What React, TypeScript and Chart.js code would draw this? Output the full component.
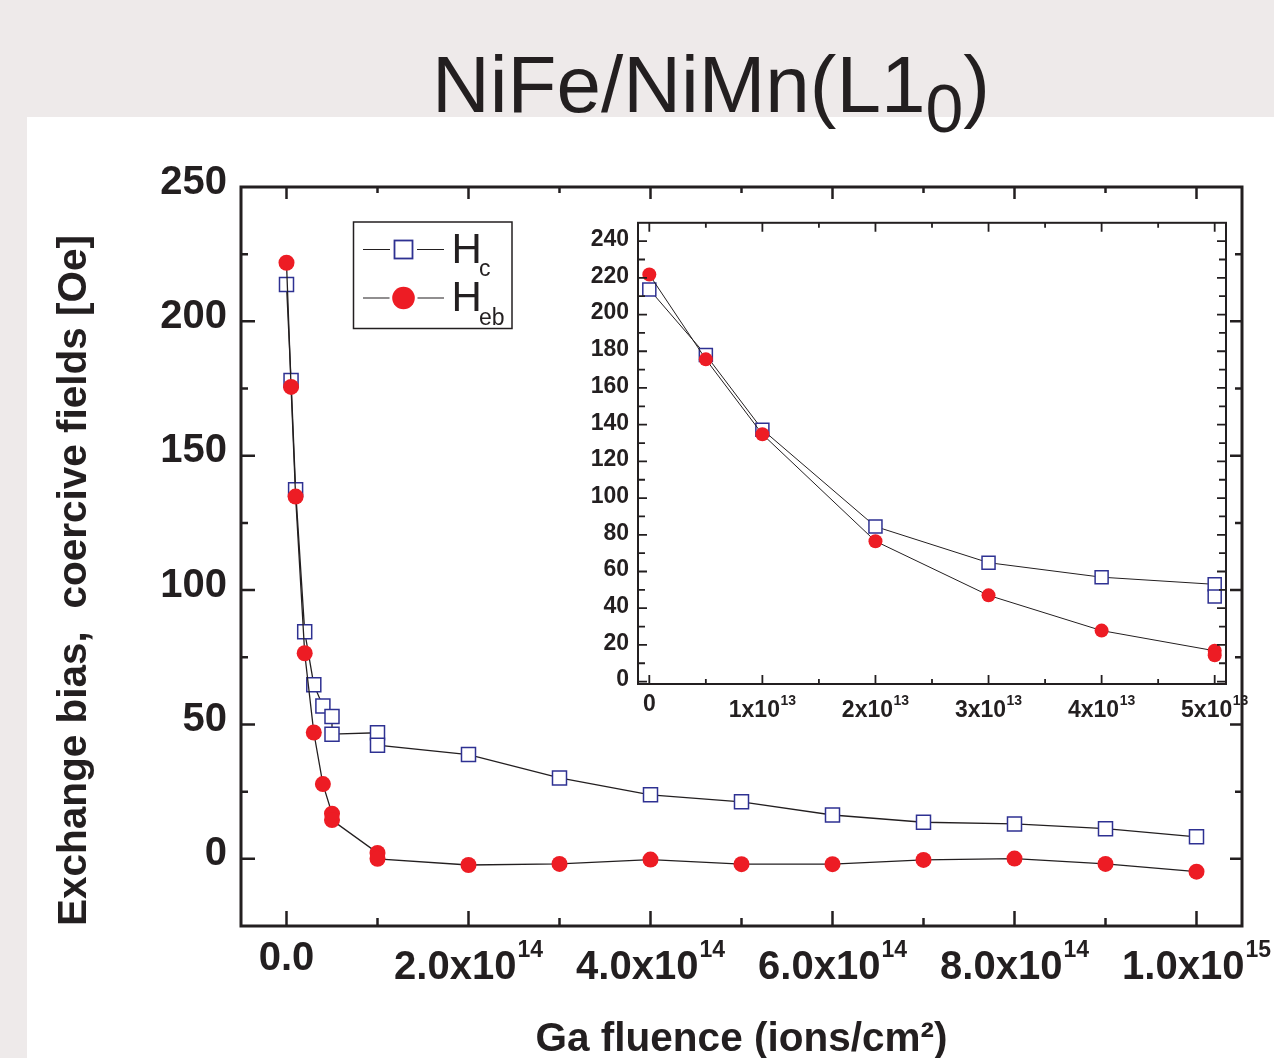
import React, { useEffect, useRef } from 'react';
import { Chart, registerables } from 'chart.js';

Chart.register(...registerables);

const INK = '#231f20';
const NAVY = '#2e3192';
const RED = '#ed1c24';
const FONT = '"Liberation Sans", Arial, Helvetica, sans-serif';

// ---------------- data ----------------
const fluence = [0, 5e12, 1e13, 2e13, 3e13, 4e13, 5e13, 5e13, 1e14, 1e14, 2e14, 3e14, 4e14, 5e14, 6e14, 7e14, 8e14, 9e14, 1e15];
const hc = [213.7, 178.0, 137.3, 84.5, 64.8, 56.9, 53.0, 46.4, 46.9, 42.3, 38.8, 30.1, 23.8, 21.2, 16.3, 13.6, 13.0, 11.2, 8.2];
const heb = [221.8, 175.6, 134.8, 76.5, 47.0, 27.8, 16.8, 14.4, 2.2, 0.0, -2.3, -1.9, -0.3, -2.0, -2.0, -0.4, 0.1, -1.9, -4.8];
const insetCount = 8; // inset shows the points up to 5x10^13

const legendMain = ['H', 'H'];
const legendSub = ['c', 'eb'];

const mainXTickValues = [0, 2e14, 4e14, 6e14, 8e14, 1e15];
const mainXTickBases = ['0.0', '2.0x10', '4.0x10', '6.0x10', '8.0x10', '1.0x10'];
const mainXTickExps = ['', '14', '14', '14', '14', '15'];
const mainYTickValues = [0, 50, 100, 150, 200, 250];

const insetXTickValues = [0, 1e13, 2e13, 3e13, 4e13, 5e13];
const insetXTickBases = ['0', '1x10', '2x10', '3x10', '4x10', '5x10'];
const insetXTickExps = ['', '13', '13', '13', '13', '13'];
const insetYTickValues = [0, 20, 40, 60, 80, 100, 120, 140, 160, 180, 200, 220, 240];

const titleMain = 'NiFe/NiMn(L1';
const titleSub = '0';
const titleEnd = ')';
const xTitle = 'Ga fluence (ions/cm²)';
const yTitle = 'Exchange bias,  coercive fields [Oe]';

// ---------------- helpers ----------------
function isMult(v: number, step: number) {
  const r = v / step;
  return Math.abs(r - Math.round(r)) < 1e-6;
}

// tick positions at every multiple of `step` inside the scale's range
function stepTicks(step: number) {
  return (scale: any) => {
    const out: { value: number }[] = [];
    const k0 = Math.ceil(scale.min / step - 1e-9);
    for (let k = k0; k * step <= scale.max + step * 1e-9; k++) {
      out.push({ value: k * step });
    }
    scale.ticks = out;
  };
}

type AxisCfg = {
  xStep: number; xMajor: number; yStep: number; yMajor: number;
  lens: { left: number[]; right: number[]; top: number[]; bottom: number[] };
  tickWidth: number; frameWidth: number;
  labels: { values: number[]; bases: string[]; exps: string[] };
  baseSize: number; expSize: number;
  plainDy: number; baseDy: number; expDy: number; expGap: number;
};

function makeAxisPlugin(id: string, cfg: AxisCfg) {
  return {
    id,
    afterDraw(chart: any) {
      const { ctx, chartArea: a, scales } = chart;
      const xs = scales.x;
      const ys = scales.y;
      ctx.save();
      ctx.strokeStyle = INK;
      ctx.lineWidth = cfg.tickWidth;
      ctx.lineCap = 'butt';
      ctx.beginPath();
      xs.ticks.forEach((t: any) => {
        const v = t.value;
        if (!isMult(v, cfg.xStep) || v <= xs.min || v >= xs.max) return;
        const k = isMult(v, cfg.xMajor) ? 0 : 1;
        const px = xs.getPixelForValue(v);
        ctx.moveTo(px, a.bottom);
        ctx.lineTo(px, a.bottom - cfg.lens.bottom[k]);
        ctx.moveTo(px, a.top);
        ctx.lineTo(px, a.top + cfg.lens.top[k]);
      });
      ys.ticks.forEach((t: any) => {
        const v = t.value;
        if (!isMult(v, cfg.yStep) || v <= ys.min || v >= ys.max) return;
        const k = isMult(v, cfg.yMajor) ? 0 : 1;
        const py = ys.getPixelForValue(v);
        ctx.moveTo(a.left, py);
        ctx.lineTo(a.left + cfg.lens.left[k], py);
        ctx.moveTo(a.right, py);
        ctx.lineTo(a.right - cfg.lens.right[k], py);
      });
      ctx.stroke();
      ctx.lineWidth = cfg.frameWidth;
      ctx.lineJoin = 'miter';
      ctx.strokeRect(a.left, a.top, a.right - a.left, a.bottom - a.top);

      // x tick labels with superscript exponents
      ctx.fillStyle = INK;
      ctx.textAlign = 'left';
      ctx.textBaseline = 'alphabetic';
      const baseFont = `bold ${cfg.baseSize}px ${FONT}`;
      const expFont = `bold ${cfg.expSize}px ${FONT}`;
      cfg.labels.values.forEach((v, i) => {
        const px = xs.getPixelForValue(v);
        const b = cfg.labels.bases[i];
        const e = cfg.labels.exps[i];
        ctx.font = baseFont;
        const wb = ctx.measureText(b).width;
        let we = 0;
        if (e) {
          ctx.font = expFont;
          we = ctx.measureText(e).width + cfg.expGap;
        }
        const x0 = px - (wb + we) / 2;
        ctx.font = baseFont;
        ctx.fillText(b, x0, a.bottom + (e ? cfg.baseDy : cfg.plainDy));
        if (e) {
          ctx.font = expFont;
          ctx.fillText(e, x0 + wb + cfg.expGap, a.bottom + cfg.expDy);
        }
      });
      ctx.restore();
    },
  };
}

const legendPlugin = {
  id: 'hLegend',
  afterDraw(chart: any) {
    const { ctx, chartArea: a } = chart;
    const bx = a.left + 112.5;
    const by = a.top + 35;
    const bw = 158.5;
    const bh = 106.5;
    ctx.save();
    ctx.strokeStyle = INK;
    ctx.lineWidth = 1.5;
    ctx.strokeRect(bx, by, bw, bh);
    chart.data.datasets.forEach((ds: any, i: number) => {
      const cy = by + 27.5 + i * 48.5;
      const mx = bx + 50;
      const gap = ds.pointStyle === 'rect' ? 13.5 : 14;
      ctx.strokeStyle = INK;
      ctx.lineWidth = 1.2;
      ctx.beginPath();
      ctx.moveTo(bx + 9.5, cy);
      ctx.lineTo(mx - gap, cy);
      ctx.moveTo(mx + gap, cy);
      ctx.lineTo(bx + 90.5, cy);
      ctx.stroke();
      if (ds.pointStyle === 'rect') {
        ctx.fillStyle = '#ffffff';
        ctx.fillRect(mx - 9, cy - 9, 18, 18);
        ctx.strokeStyle = ds.pointBorderColor;
        ctx.lineWidth = 1.8;
        ctx.strokeRect(mx - 9, cy - 9, 18, 18);
      } else {
        ctx.fillStyle = ds.pointBackgroundColor;
        ctx.beginPath();
        ctx.arc(mx, cy, 11.3, 0, Math.PI * 2);
        ctx.fill();
      }
      ctx.fillStyle = INK;
      ctx.textAlign = 'left';
      ctx.textBaseline = 'alphabetic';
      ctx.font = `42px ${FONT}`;
      ctx.fillText(legendMain[i], bx + 98, cy + 13.2);
      ctx.font = `23px ${FONT}`;
      ctx.fillText(legendSub[i], bx + 125.5, cy + 26.5);
    });
    ctx.restore();
  },
};

function makeDatasets(n: number, sqR: number, circR: number, lineW: number) {
  const xs = fluence.slice(0, n);
  return [
    {
      label: 'Hc',
      data: xs.map((x, i) => ({ x, y: hc[i] })),
      showLine: true,
      borderColor: INK,
      borderWidth: lineW,
      pointStyle: 'rect',
      pointRadius: sqR,
      pointBorderColor: NAVY,
      pointBackgroundColor: '#ffffff',
      pointBorderWidth: 1.5,
      tension: 0,
      order: 2,
    },
    {
      label: 'Heb',
      data: xs.map((x, i) => ({ x, y: heb[i] })),
      showLine: true,
      borderColor: INK,
      borderWidth: lineW,
      pointStyle: 'circle',
      pointRadius: circR,
      pointBorderColor: RED,
      pointBackgroundColor: RED,
      pointBorderWidth: 0,
      tension: 0,
      order: 1,
    },
  ];
}

export default function App() {
  const mainRef = useRef<HTMLCanvasElement>(null);
  const insetRef = useRef<HTMLCanvasElement>(null);

  useEffect(() => {
    Chart.defaults.font.family = FONT;
    Chart.defaults.color = INK;

    const main = new Chart(mainRef.current as HTMLCanvasElement, {
      type: 'scatter',
      data: { datasets: makeDatasets(fluence.length, 9.9, 8, 1.3) as any },
      options: {
        responsive: false,
        animation: false,
        events: [],
        layout: { padding: { left: 0, top: 187, right: 32, bottom: 0 } },
        plugins: { legend: { display: false }, tooltip: { enabled: false } },
        scales: {
          x: {
            type: 'linear',
            min: -5e13,
            max: 1.05e15,
            grid: { display: false, drawTicks: false },
            border: { display: false },
            ticks: { display: false, autoSkip: false },
            afterBuildTicks: stepTicks(1e14),
            title: {
              display: true,
              text: xTitle,
              color: INK,
              font: { size: 40.5, weight: 'bold', family: FONT },
              padding: { top: 0, bottom: 5.7 },
            },
            afterFit: (s: any) => { s.height = 144; },
          },
          y: {
            type: 'linear',
            min: -25,
            max: 250,
            grid: { display: false, drawTicks: false },
            border: { display: false },
            afterBuildTicks: stepTicks(25),
            ticks: {
              autoSkip: false,
              padding: 14,
              labelOffset: -4.5,
              color: INK,
              font: { size: 40, weight: 'bold', family: FONT },
              callback: (v: any) => (mainYTickValues.includes(Number(v)) ? String(v) : ''),
            },
            title: {
              display: true,
              text: yTitle,
              color: INK,
              align: 'start',
              font: { size: 40.5, weight: 'bold', family: FONT },
              padding: { top: 50.5, bottom: 0 },
            },
            afterFit: (s: any) => { s.width = 241; },
          },
        },
      } as any,
      plugins: [
        makeAxisPlugin('mainAxes', {
          xStep: 1e14, xMajor: 2e14, yStep: 25, yMajor: 50,
          lens: { left: [14, 7], right: [12, 7], top: [12, 6], bottom: [15, 8] },
          tickWidth: 2.5, frameWidth: 3,
          labels: { values: mainXTickValues, bases: mainXTickBases, exps: mainXTickExps },
          baseSize: 40, expSize: 23, plainDy: 44, baseDy: 53, expDy: 31, expGap: 1,
        }),
        legendPlugin,
      ],
    });

    const inset = new Chart(insetRef.current as HTMLCanvasElement, {
      type: 'scatter',
      data: { datasets: makeDatasets(insetCount, 9.2, 7, 1) as any },
      options: {
        responsive: false,
        animation: false,
        events: [],
        layout: { padding: { left: 0, top: 22, right: 48, bottom: 0 } },
        plugins: { legend: { display: false }, tooltip: { enabled: false } },
        scales: {
          x: {
            type: 'linear',
            min: -1e12,
            max: 5.1e13,
            grid: { display: false, drawTicks: false },
            border: { display: false },
            ticks: { display: false, autoSkip: false },
            afterBuildTicks: stepTicks(5e12),
            afterFit: (s: any) => { s.height = 46; },
          },
          y: {
            type: 'linear',
            min: -1.3,
            max: 250,
            grid: { display: false, drawTicks: false },
            border: { display: false },
            afterBuildTicks: stepTicks(10),
            ticks: {
              autoSkip: false,
              padding: 9,
              labelOffset: -1.5,
              color: INK,
              font: { size: 23, weight: 'bold', family: FONT },
              callback: (v: any) => (insetYTickValues.includes(Number(v)) ? String(v) : ''),
            },
            afterFit: (s: any) => { s.width = 78; },
          },
        },
      } as any,
      plugins: [
        makeAxisPlugin('insetAxes', {
          xStep: 5e12, xMajor: 1e13, yStep: 10, yMajor: 20,
          lens: { left: [9, 7], right: [9, 7], top: [9, 5], bottom: [9, 5] },
          tickWidth: 1.8, frameWidth: 2,
          labels: { values: insetXTickValues, bases: insetXTickBases, exps: insetXTickExps },
          baseSize: 23, expSize: 14, plainDy: 27, baseDy: 33, expDy: 21, expGap: 0.5,
        }),
      ],
    });

    return () => {
      main.destroy();
      inset.destroy();
    };
  }, []);

  return (
    <div
      style={{
        position: 'fixed', left: 0, top: 0, width: 1274, height: 1058,
        overflow: 'hidden', background: '#eeeaea',
      }}
    >
      <div style={{ position: 'absolute', left: 27, top: 117, right: 0, bottom: 0, background: '#ffffff' }} />
      <div style={{ position: 'absolute', left: 0, top: 0, width: 1274, height: 1070 }}>
        <canvas ref={mainRef} width={1274} height={1070} style={{ display: 'block', width: 1274, height: 1070 }} />
      </div>
      <div style={{ position: 'absolute', left: 560, top: 200, width: 714, height: 530 }}>
        <canvas ref={insetRef} width={714} height={530} style={{ display: 'block', width: 714, height: 530 }} />
      </div>
      <div
        style={{
          position: 'absolute', left: 432, top: 45, fontFamily: FONT, fontSize: 80,
          lineHeight: '80px', color: INK, whiteSpace: 'nowrap',
        }}
      >
        {titleMain}
        <span style={{ fontSize: 68, position: 'relative', top: 20 }}>{titleSub}</span>
        {titleEnd}
      </div>
    </div>
  );
}
